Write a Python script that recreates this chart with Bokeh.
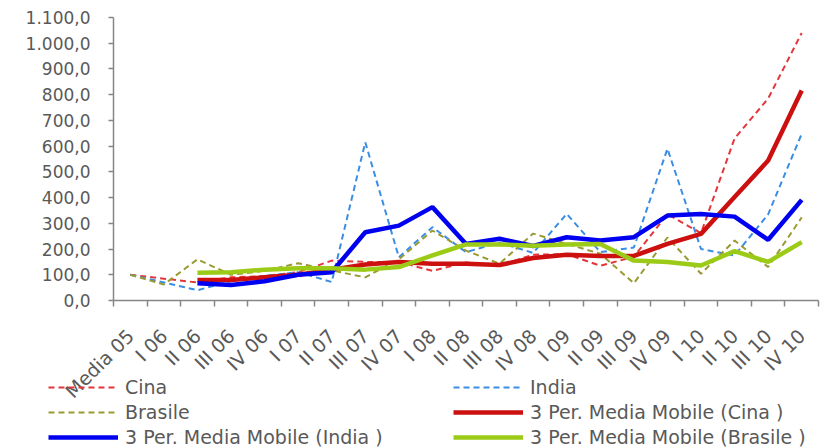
import numpy as np
from math import pi
from bokeh.plotting import figure
from bokeh.models import FixedTicker, Legend, LegendItem, Range1d
from bokeh.embed import file_html
from bokeh.resources import INLINE

categories = ["Media 05", "I 06", "II 06", "III 06", "IV 06", "I 07", "II 07",
              "III 07", "IV 07", "I 08", "II 08", "III 08", "IV 08", "I 09",
              "II 09", "III 09", "IV 09", "I 10", "II 10", "III 10", "IV 10"]

cina = [100, 85, 70, 90, 95, 110, 155, 150, 150, 115, 148, 136, 178, 180, 135,
        170, 335, 262, 630, 785, 1040]
india = [100, 70, 40, 75, 95, 110, 72, 615, 168, 285, 188, 225, 185, 337, 188,
         206, 590, 200, 175, 335, 648]
brasile = [100, 62, 160, 100, 115, 145, 117, 90, 160, 272, 194, 143, 260, 220,
           182, 67, 245, 104, 233, 130, 323]

nan = float("nan")
ma_cina = [nan, nan, 80, 80, 90, 100, 120, 140, 150, 143, 143, 138, 165, 178,
           173, 173, 220, 259, 402, 544, 816]
ma_india = [nan, nan, 67, 60, 75, 100, 110, 265, 291, 363, 220, 240, 212, 246,
            233, 246, 330, 336, 326, 236, 391]
ma_brasile = [nan, nan, 108, 110, 120, 125, 125, 120, 130, 175, 218, 218, 213,
              218, 220, 155, 150, 136, 192, 150, 227]

y_ticks = [0, 100, 200, 300, 400, 500, 600, 700, 800, 900, 1000, 1100]
y_tick_labels = ["0,0", "100,0", "200,0", "300,0", "400,0", "500,0", "600,0",
                 "700,0", "800,0", "900,0", "1.000,0", "1.100,0"]

FONT = "DejaVu Sans"
TXT = "#595959"
AX = "#868686"

n = len(categories)
xs = [i + 0.5 for i in range(n)]

# layout (pixels inside the figure)
W, H = 826, 448
plot_left, plot_right = 113, 818      # x = 0 .. n
plot_top, plot_bottom = 17, 300       # y = 1100 .. 0
y_max = y_ticks[-1]
px_x = (plot_right - plot_left) / n
px_y = (plot_bottom - plot_top) / y_max
x_range = Range1d(-plot_left / px_x, n + (W - plot_right) / px_x)
y_range = Range1d(-(H - plot_bottom) / px_y, y_max + plot_top / px_y)

p = figure(width=W, height=H, output_backend="svg", toolbar_location=None,
           x_range=x_range, y_range=y_range, title=None, min_border=0)
p.outline_line_color = None
p.xgrid.visible = False
p.ygrid.visible = False
p.background_fill_color = "white"
p.border_fill_color = "white"

r_cina = p.line(xs, cina, line_color="#E4363A", line_width=2, line_dash="6 4")
r_india = p.line(xs, india, line_color="#3B8DE3", line_width=2, line_dash="6 4")
r_bra = p.line(xs, brasile, line_color="#9A9A32", line_width=2, line_dash="6 4")
r_mc = p.line(xs, ma_cina, line_color="#CC1010", line_width=4.5)
r_mi = p.line(xs, ma_india, line_color="#0000F0", line_width=4.5)
r_mb = p.line(xs, ma_brasile, line_color="#9BCB16", line_width=4.5)

# x axis
xa = p.xaxis[0]
xa.fixed_location = 0
xa.bounds = (0, n)
xa.ticker = FixedTicker(ticks=xs, minor_ticks=list(range(n + 1)))
xa.major_label_overrides = {x: c for x, c in zip(xs, categories)}
xa.major_label_orientation = pi / 4
xa.major_tick_line_color = None
xa.minor_tick_line_color = AX
xa.minor_tick_out = 6
xa.minor_tick_in = 0
xa.minor_tick_line_width = 1.5
xa.axis_line_color = AX
xa.axis_line_width = 1.5
xa.major_label_text_font = FONT
xa.major_label_text_font_size = "19px"
xa.major_label_text_color = TXT
xa.major_label_standoff = 26

# y axis
ya = p.yaxis[0]
ya.fixed_location = 0
ya.bounds = (0, y_max)
ya.ticker = FixedTicker(ticks=y_ticks, minor_ticks=[])
ya.major_label_overrides = {t: l for t, l in zip(y_ticks, y_tick_labels)}
ya.major_tick_out = 5
ya.major_tick_in = 0
ya.major_tick_line_color = AX
ya.major_tick_line_width = 1.5
ya.minor_tick_line_color = None
ya.axis_line_color = AX
ya.axis_line_width = 1.5
ya.major_label_text_font = FONT
ya.major_label_text_font_size = "17px"
ya.major_label_text_color = TXT
ya.major_label_standoff = 18


def make_legend(items, loc):
    return Legend(items=items, location=loc, orientation="vertical",
                  glyph_width=70, glyph_height=22, label_height=22,
                  label_standoff=7, spacing=3, padding=0, margin=0,
                  border_line_color=None, background_fill_alpha=0,
                  label_text_font=FONT, label_text_font_size="19px",
                  label_text_color=TXT)


leg1 = make_legend([LegendItem(label="Cina", renderers=[r_cina]),
                    LegendItem(label="Brasile", renderers=[r_bra]),
                    LegendItem(label="3 Per. Media Mobile (India )", renderers=[r_mi])],
                   (48, 0))
leg2 = make_legend([LegendItem(label="India", renderers=[r_india]),
                    LegendItem(label="3 Per. Media Mobile (Cina )", renderers=[r_mc]),
                    LegendItem(label="3 Per. Media Mobile (Brasile )", renderers=[r_mb])],
                   (453, 0))
p.add_layout(leg1, "center")
p.add_layout(leg2, "center")

open("out.html", "w").write(file_html(p, INLINE))
